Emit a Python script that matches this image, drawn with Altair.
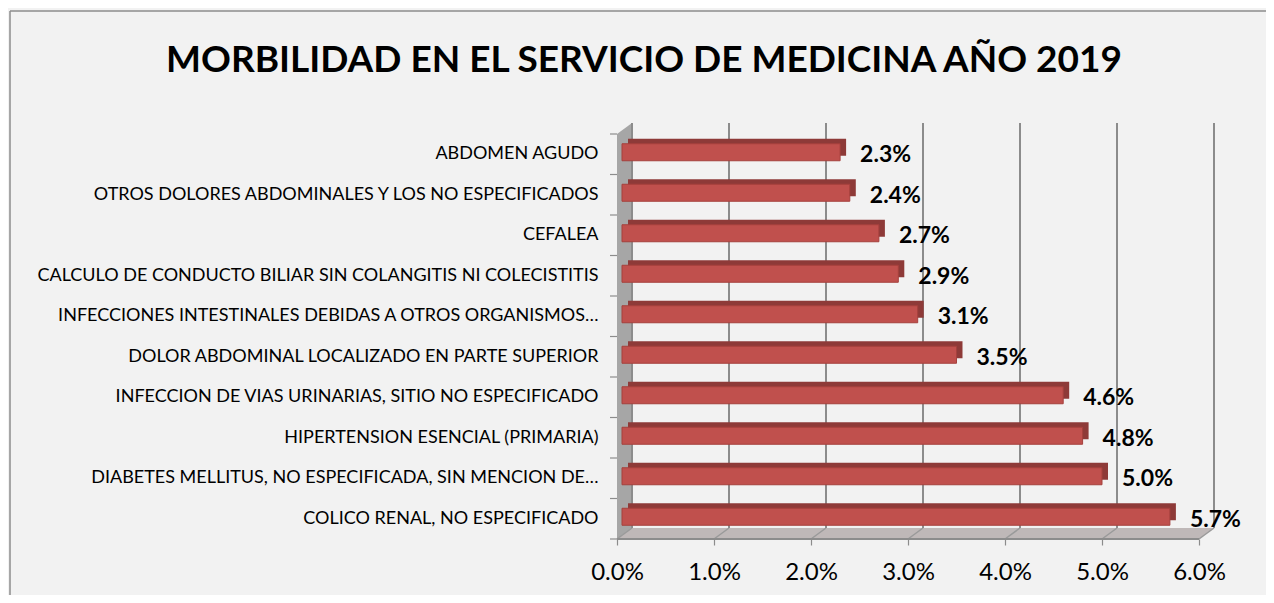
import altair as alt
import pandas as pd

# ---- data (top to bottom) ----
categories = [
    "ABDOMEN AGUDO",
    "OTROS DOLORES ABDOMINALES Y LOS NO ESPECIFICADOS",
    "CEFALEA",
    "CALCULO DE CONDUCTO BILIAR SIN COLANGITIS NI COLECISTITIS",
    "INFECCIONES INTESTINALES DEBIDAS A OTROS ORGANISMOS…",
    "DOLOR ABDOMINAL LOCALIZADO EN PARTE SUPERIOR",
    "INFECCION DE VIAS URINARIAS, SITIO NO ESPECIFICADO",
    "HIPERTENSION ESENCIAL (PRIMARIA)",
    "DIABETES MELLITUS, NO ESPECIFICADA, SIN MENCION DE…",
    "COLICO RENAL, NO ESPECIFICADO",
]
values = [2.3, 2.4, 2.7, 2.9, 3.1, 3.5, 4.6, 4.8, 5.0, 5.7]
x_ticks = [0, 1, 2, 3, 4, 5, 6]
TITLE = "MORBILIDAD EN EL SERVICIO DE MEDICINA AÑO 2019"

# ---- layout constants ----
W, H = 582, 405
PAD_L, PAD_T = 609, 126
TOT_W, TOT_H = 1258, 587
DXP, DYP = 15, 11            # 3D depth in pixels
XMAX = 6.0
DX = DXP * XMAX / W          # depth in data units
FONT = "Lato"

df = pd.DataFrame({"cat": categories, "val": values})
df["lbl"] = [f"{v:.1f}%" for v in values]

xscale = alt.Scale(domain=[0, XMAX], nice=False, zero=False)
pscale = alt.Scale(domain=[0, H], range=[0, H], nice=False, zero=False)
yband = alt.Scale(domain=categories)

xaxis = alt.Axis(values=x_ticks, labelExpr="format(datum.value, '.1f') + '%'",
                 grid=False, domain=False, ticks=True, tickSize=6,
                 tickColor="#8c8c8c", tickWidth=1.2, labelFlush=False,
                 labelFont=FONT, labelFontSize=24, labelColor="#000000",
                 labelPadding=15, title=None)

# wall parallelogram
wall = pd.DataFrame({"x": [0, DX], "y": [0, -DYP], "y2": [H, H - DYP]})
# floor parallelogram
floor = pd.DataFrame({
    "x": [0, DX, XMAX, XMAX + DX],
    "y": [H, H - DYP, H - DYP, H - DYP],
    "y2": [H, H, H, H - DYP],
})
grid = pd.DataFrame({"v": x_ticks})
grid["vb"] = grid["v"] + DX
grid["yt"] = -DYP
grid["yb"] = H - DYP
grid["yf"] = H

n = len(categories)
bounds = pd.DataFrame({"b": [i * H / n for i in range(n + 1)]})

wall_layer = alt.Chart(wall).mark_area(color="#a6a6a6", opacity=1).encode(
    x=alt.X("x:Q", scale=xscale, axis=xaxis),
    y=alt.Y("y:Q", scale=pscale, axis=None),
    y2="y2:Q",
)
floor_layer = alt.Chart(floor).mark_area(color="#bfb8b8", opacity=1).encode(
    x=alt.X("x:Q", scale=xscale, axis=xaxis),
    y=alt.Y("y:Q", scale=pscale, axis=None),
    y2="y2:Q",
)
grid_layer = alt.Chart(grid).mark_rule(color="#8c8c8c", strokeWidth=2).encode(
    x=alt.X("vb:Q", scale=xscale, axis=xaxis),
    y=alt.Y("yt:Q", scale=pscale, axis=None),
    y2="yb:Q",
)
diag_layer = alt.Chart(grid).mark_rule(color="#9a9a9a", strokeWidth=1.5).encode(
    x=alt.X("v:Q", scale=xscale, axis=xaxis),
    x2="vb:Q",
    y=alt.Y("yf:Q", scale=pscale, axis=None),
    y2="yb:Q",
)
ytick_layer = alt.Chart(bounds).mark_rule(color="#8c8c8c", strokeWidth=1.2).encode(
    x=alt.value(-7), x2=alt.value(0),
    y=alt.Y("b:Q", scale=pscale, axis=None),
)
front_axis = alt.Chart(grid).mark_rule(color="#8c8c8c", strokeWidth=1.5).encode(
    x=alt.value(0), x2=alt.value(W),
    y=alt.Y("yf:Q", scale=pscale, axis=None),
)

bar_back = alt.Chart(df).mark_bar(
    size=17, color="#8e3a38", xOffset=6, yOffset=-7, x2Offset=11
).encode(
    x=alt.X("val:Q", scale=xscale, axis=xaxis),
    x2=alt.datum(0),
    y=alt.Y("cat:N", scale=yband, axis=None),
)
bar_front = alt.Chart(df).mark_bar(
    size=17, color="#c0504d", stroke="#a5403d", strokeWidth=1, yOffset=-2, x2Offset=5
).encode(
    x=alt.X("val:Q", scale=xscale, axis=xaxis),
    x2=alt.datum(0),
    y=alt.Y("cat:N", scale=yband,
            axis=alt.Axis(ticks=False, domain=False, labelFont=FONT, labelFontSize=18,
                          labelColor="#000000", labelPadding=19, labelLimit=600,
                          title=None)),
)
val_text = alt.Chart(df).mark_text(
    align="left", baseline="middle", dx=20, dy=1, font=FONT, fontSize=23,
    fontWeight="bold", color="#000000"
).encode(
    x=alt.X("val:Q", scale=xscale, axis=xaxis),
    y=alt.Y("cat:N", scale=yband, axis=None),
    text="lbl:N",
)

title_layer = alt.Chart(pd.DataFrame({"t": [TITLE]})).mark_text(
    align="center", baseline="alphabetic", font=FONT, fontSize=37,
    fontWeight="bold", color="#000000"
).encode(x=alt.value(27), y=alt.value(-62), text="t:N")

frame_left = alt.Chart(pd.DataFrame({"a": [0]})).mark_rule(color="#8c8c8c", strokeWidth=1.5).encode(
    x=alt.value(-607), y=alt.value(-123), y2=alt.value(H + 60)
)
frame_top = alt.Chart(pd.DataFrame({"a": [0]})).mark_rule(color="#8c8c8c", strokeWidth=1.5).encode(
    x=alt.value(-607), x2=alt.value(W + 70), y=alt.value(-123)
)

chart = alt.layer(
    frame_left, frame_top,
    wall_layer, floor_layer, grid_layer, diag_layer, ytick_layer, front_axis,
    bar_back, bar_front, val_text, title_layer,
).resolve_scale(y="independent").properties(
    width=W, height=H,
    autosize=alt.AutoSizeParams(type="none"),
    padding={"left": PAD_L, "top": PAD_T, "right": TOT_W - PAD_L - W, "bottom": TOT_H - PAD_T - H},
    background="#f2f2f2",
).configure_view(stroke=None)

chart.save("out.html", embed_options={"renderer": "svg", "actions": False})
